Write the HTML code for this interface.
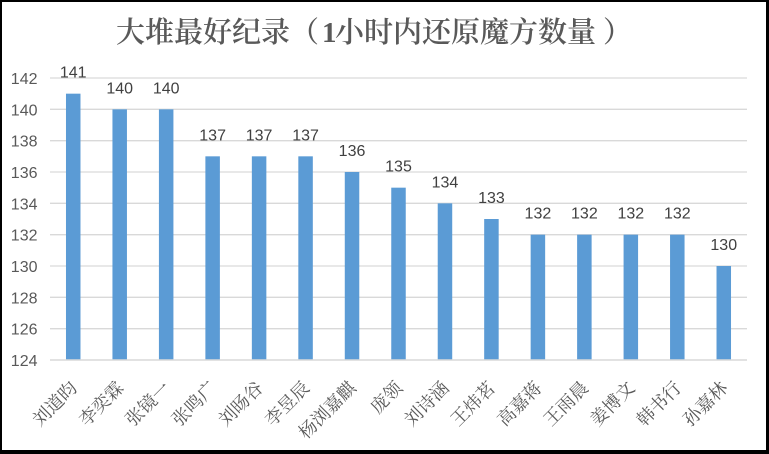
<!DOCTYPE html>
<html>
<head>
<meta charset="utf-8">
<style>
html,body{margin:0;padding:0;background:#000;}
body{width:769px;height:454px;overflow:hidden;}
svg{display:block;}
.t{font-family:"Liberation Serif","Noto Serif CJK SC",serif;fill:#595959;}
.n{font-family:"Liberation Sans","DejaVu Sans",sans-serif;font-size:16px;}
.x{font-family:"Liberation Serif","Noto Serif CJK SC",serif;font-size:18px;fill:#595959;}
</style>
</head>
<body>
<svg width="769" height="454" viewBox="0 0 769 454" xmlns="http://www.w3.org/2000/svg">
<rect x="0" y="0" width="769" height="454" fill="#000"/>
<rect x="2" y="2" width="764" height="448" fill="#fff"/>

<!-- title -->
<g class="t" font-size="29" font-weight="600">
<text x="116" y="42">大堆最好纪录（</text>
<text x="322" y="42" font-weight="bold">1</text>
<text x="335" y="42">小时内还原魔方数量</text>
<text x="603" y="42">）</text>
</g>

<!-- gridlines -->
<g stroke="#D9D9D9" stroke-width="1.3">
<line x1="50" x2="747" y1="78" y2="78"/>
<line x1="50" x2="747" y1="109.33" y2="109.33"/>
<line x1="50" x2="747" y1="140.67" y2="140.67"/>
<line x1="50" x2="747" y1="172" y2="172"/>
<line x1="50" x2="747" y1="203.33" y2="203.33"/>
<line x1="50" x2="747" y1="234.67" y2="234.67"/>
<line x1="50" x2="747" y1="266" y2="266"/>
<line x1="50" x2="747" y1="297.33" y2="297.33"/>
<line x1="50" x2="747" y1="328.67" y2="328.67"/>
</g>

<!-- y labels -->
<g class="n" fill="#595959" text-anchor="end">
<text x="37.5" y="84">142</text>
<text x="37.5" y="115.33">140</text>
<text x="37.5" y="146.67">138</text>
<text x="37.5" y="178">136</text>
<text x="37.5" y="209.33">134</text>
<text x="37.5" y="240.67">132</text>
<text x="37.5" y="272">130</text>
<text x="37.5" y="303.33">128</text>
<text x="37.5" y="334.67">126</text>
<text x="37.5" y="366">124</text>
</g>

<!-- bars -->
<g fill="#5B9BD5">
<rect x="65.98" y="93.67" width="14.5" height="266.33"/>
<rect x="112.45" y="109.33" width="14.5" height="250.67"/>
<rect x="158.92" y="109.33" width="14.5" height="250.67"/>
<rect x="205.38" y="156.33" width="14.5" height="203.67"/>
<rect x="251.85" y="156.33" width="14.5" height="203.67"/>
<rect x="298.32" y="156.33" width="14.5" height="203.67"/>
<rect x="344.78" y="172" width="14.5" height="188"/>
<rect x="391.25" y="187.67" width="14.5" height="172.33"/>
<rect x="437.72" y="203.33" width="14.5" height="156.67"/>
<rect x="484.18" y="219" width="14.5" height="141"/>
<rect x="530.65" y="234.67" width="14.5" height="125.33"/>
<rect x="577.12" y="234.67" width="14.5" height="125.33"/>
<rect x="623.58" y="234.67" width="14.5" height="125.33"/>
<rect x="670.05" y="234.67" width="14.5" height="125.33"/>
<rect x="716.52" y="266" width="14.5" height="94"/>
</g>

<!-- axis line -->
<line x1="50" x2="747" y1="360" y2="360" stroke="#D9D9D9" stroke-width="1.5"/>

<!-- data labels -->
<g class="n" fill="#404040" text-anchor="middle">
<text x="73.23" y="77.67">141</text>
<text x="119.70" y="93.33">140</text>
<text x="166.17" y="93.33">140</text>
<text x="212.63" y="140.33">137</text>
<text x="259.10" y="140.33">137</text>
<text x="305.57" y="140.33">137</text>
<text x="352.03" y="156">136</text>
<text x="398.50" y="171.67">135</text>
<text x="444.97" y="187.33">134</text>
<text x="491.43" y="203">133</text>
<text x="537.90" y="218.67">132</text>
<text x="584.37" y="218.67">132</text>
<text x="630.83" y="218.67">132</text>
<text x="677.30" y="218.67">132</text>
<text x="723.77" y="250">130</text>
</g>

<!-- x labels -->
<g class="x" text-anchor="end">
<text transform="translate(78.23,389) rotate(-45)">刘道昀</text>
<text transform="translate(124.70,389) rotate(-45)">李奕霖</text>
<text transform="translate(171.17,389) rotate(-45)">张镜一</text>
<text transform="translate(217.63,389) rotate(-45)">张鸣广</text>
<text transform="translate(264.10,389) rotate(-45)">刘旸谷</text>
<text transform="translate(310.57,389) rotate(-45)">李昱辰</text>
<text transform="translate(357.03,389) rotate(-45)">杨浏嘉麒</text>
<text transform="translate(403.50,389) rotate(-45)">庞领</text>
<text transform="translate(449.97,389) rotate(-45)">刘诗涵</text>
<text transform="translate(496.43,389) rotate(-45)">王炜茗</text>
<text transform="translate(542.90,389) rotate(-45)">高嘉蒋</text>
<text transform="translate(589.37,389) rotate(-45)">王雨晨</text>
<text transform="translate(635.83,389) rotate(-45)">姜博文</text>
<text transform="translate(682.30,389) rotate(-45)">韩书行</text>
<text transform="translate(728.77,389) rotate(-45)">孙嘉林</text>
</g>
</svg>
</body>
</html>
